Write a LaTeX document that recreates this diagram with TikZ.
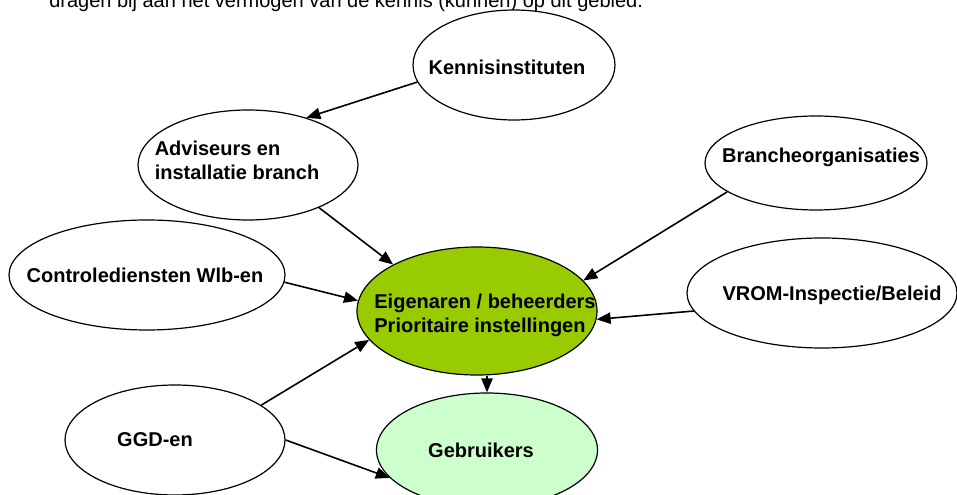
\documentclass[tikz,border=0pt]{standalone}
\usepackage{fontspec}
\setmainfont{Liberation Sans}
\usetikzlibrary{arrows.meta,shapes.geometric}
\definecolor{eiggreen}{HTML}{99CC00}
\definecolor{gebgreen}{HTML}{CCFFCC}
\begin{document}
\begin{tikzpicture}[x=0.75pt,y=-0.75pt,
  bub/.style={draw=black,line width=0.9pt,ellipse,inner sep=0pt,fill=white},
  lab/.style={font=\fontsize{15}{18}\selectfont\bfseries,align=left,inner sep=0pt},
  conn/.style={line width=1.2pt,-{Triangle[length=10.5pt,width=8.5pt]}}]
\useasboundingbox (0,0) rectangle (957,495);
\clip (0,0) rectangle (957,495);
\node[anchor=base west,inner sep=0pt,font=\fontsize{15}{18}\selectfont] (intro) at (49,8)
  {dragen bij aan het vermogen van de kennis (kunnen) op dit gebied.};

\node[bub,minimum width=151.5pt,minimum height=82.5pt,
  label={[lab,xshift=-5.25pt,yshift=-1.5pt]center:Kennisinstituten}] (ken) at (514,65) {};
\node[bub,minimum width=165pt,minimum height=82.5pt,
  label={[lab,xshift=-8.25pt,yshift=3.75pt]center:{Adviseurs en\\installatie branch}}] (adv) at (248,165) {};
\node[bub,minimum width=207pt,minimum height=82.5pt,
  label={[lab,xshift=-1.5pt]center:Controlediensten Wlb-en}] (con) at (147,275) {};
\node[bub,minimum width=166.5pt,minimum height=70.5pt,
  label={[lab,xshift=3.75pt,yshift=4.5pt]center:Brancheorganisaties}] (bra) at (816,163) {};
\node[bub,minimum width=202.5pt,minimum height=82.5pt,
  label={[lab,xshift=7.5pt,yshift=-1.5pt]center:VROM-Inspectie/Beleid}] (vrom) at (822,293) {};
\node[bub,fill=eiggreen,minimum width=180pt,minimum height=96pt,
  label={[lab,xshift=6pt,yshift=-3pt]center:{Eigenaren / beheerders\\Prioritaire instellingen}}] (eig) at (477,311) {};
\node[bub,fill=gebgreen,minimum width=165.75pt,minimum height=85.5pt,
  label={[lab,xshift=-4.5pt]center:Gebruikers}] (geb) at (487,450) {};
\node[bub,minimum width=165pt,minimum height=82.5pt,
  label={[lab,xshift=-15pt]center:GGD-en}] (ggd) at (175,440) {};

\draw[conn] (ken.190) -- (adv.39.5);
\draw[conn] (adv.-31) -- (eig.151);
\draw[conn] (con.-3) -- (eig.175);
\draw[conn] (bra.-162) -- (eig.16);
\draw[conn] (vrom.-172) -- (eig.-4);
\draw[conn] (ggd.22) -- (eig.-165);
\draw[conn] (ggd.0) -- (geb.196);
\draw[conn] (eig.south -| geb.north) -- (geb.north);
\end{tikzpicture}
\end{document}
